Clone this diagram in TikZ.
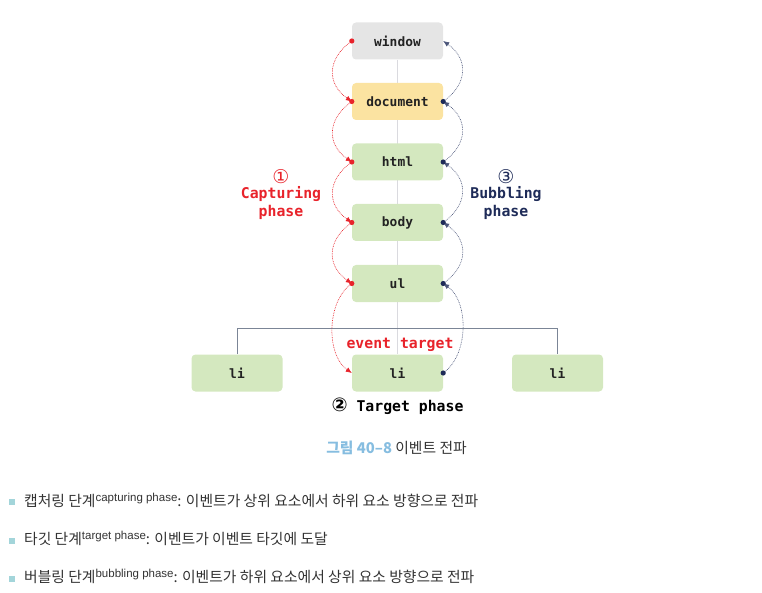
\documentclass[tikz,border=0pt]{standalone}
\usepackage{fontspec}
\setmainfont{Liberation Sans}
\newfontfamily\monob{DejaVu Sans Mono}
\newfontfamily\kr{Noto Sans CJK KR}
\newfontfamily\symf{DejaVu Sans}
\usetikzlibrary{arrows.meta}
\pgfdeclarelayer{bg}
\pgfsetlayers{bg,main}
\definecolor{capred}{HTML}{E8232B}
\definecolor{bubblue}{HTML}{1E2B58}
\definecolor{txtdark}{HTML}{222222}
\definecolor{fillgray}{HTML}{E5E5E5}
\definecolor{fillyel}{HTML}{FBE3A1}
\definecolor{fillgrn}{HTML}{D4E8BF}
\definecolor{centerln}{HTML}{DADADF}
\definecolor{treeln}{HTML}{7B8596}
\definecolor{capblue}{HTML}{86BDE0}
\definecolor{bodytxt}{HTML}{333333}
\definecolor{bulletc}{HTML}{A3D5DA}
\tikzset{
  box/.style={rounded corners=4pt, minimum width=91pt, minimum height=37pt, inner sep=0pt,
    font=\monob\bfseries\fontsize{12.9}{14}\selectfont, text=txtdark},
  lab/.style={font=\monob\bfseries\fontsize{14.8}{16}\selectfont, inner sep=0pt},
  circnum/.style={font=\symf\fontsize{19}{20}\selectfont, inner sep=0pt},
  capt/.style={draw=capred, line width=0.6pt, dash pattern=on 0.8pt off 0.9pt, -{Latex[length=6pt,width=5pt]}},
  bubl/.style={draw=bubblue!80, line width=0.6pt, dash pattern=on 0.8pt off 0.9pt, -{Latex[length=6pt,width=5pt]}},
  ktext/.style={anchor=west, inner sep=0pt, font=\kr\fontsize{14.8}{17}\selectfont, text=bodytxt},
  bul/.style={fill=bulletc, minimum size=6pt, inner sep=0pt},
}
\newcommand{\supt}[1]{\raisebox{5pt}{\rmfamily\fontsize{11.5}{12}\selectfont #1}}
\begin{document}
\begin{tikzpicture}[x=1pt,y=1pt]
\useasboundingbox (0,0) rectangle (762,-593);
% nodes
\node[box, fill=fillgray] (win) at (397.5,-41) {window};
\node[box, fill=fillyel] (doc) at (397.5,-101.5) {document};
\node[box, fill=fillgrn] (html) at (397.5,-162) {html};
\node[box, fill=fillgrn] (body) at (397.5,-222.5) {body};
\node[box, fill=fillgrn] (ul) at (397.5,-283.5) {ul};
\node[box, fill=fillgrn] (li1) at (237,-373) {li};
\node[box, fill=fillgrn] (li2) at (397.5,-373) {li};
\node[box, fill=fillgrn] (li3) at (557.5,-373) {li};
\coordinate (tl) at (237,-328.5);
\coordinate (tr) at (557.5,-328.5);
% lines behind the boxes
\begin{pgfonlayer}{bg}
\draw[centerln, line width=1.5pt] (win.south) -- (li2.north);
\draw[treeln, line width=1pt] (li1.north) -- (tl) -- (tr) -- (li3.north);
\end{pgfonlayer}
% capturing arcs
\draw[capt] (win.west) to[out=215,in=145,looseness=1.3] (doc.west);
\draw[capt] (doc.west) to[out=215,in=145,looseness=1.3] (html.west);
\draw[capt] (html.west) to[out=215,in=145,looseness=1.3] (body.west);
\draw[capt] (body.west) to[out=215,in=145,looseness=1.3] (ul.west);
\draw[capt] (ul.west) to[out=215,in=145,looseness=0.9] (li2.west);
\foreach \n in {win,doc,html,body,ul} \fill[capred] (\n.west) circle (2.6pt);
% bubbling arcs
\draw[bubl] (li2.east) to[out=35,in=-35,looseness=0.9] (ul.east);
\draw[bubl] (ul.east) to[out=35,in=-35,looseness=1.3] (body.east);
\draw[bubl] (body.east) to[out=35,in=-35,looseness=1.3] (html.east);
\draw[bubl] (html.east) to[out=35,in=-35,looseness=1.3] (doc.east);
\draw[bubl] (doc.east) to[out=35,in=-35,looseness=1.3] (win.east);
\foreach \n in {li2,ul,body,html,doc} \fill[bubblue] (\n.east) circle (2.6pt);
% labels
\node[circnum, text=capred] (c1) at (281,-177) {①};
\node[lab, text=capred] (c2) at (281,-194) {Capturing};
\node[lab, text=capred] (c3) at (281,-212) {phase};
\node[circnum, text=bubblue] (b1) at (506,-177) {③};
\node[lab, text=bubblue] (b2) at (506,-194) {Bubbling};
\node[lab, text=bubblue] (b3) at (506,-212) {phase};
\node[lab, text=capred] (et) at (400,-345) {event target};
\node[lab, text=black] (tp) at (397.5,-406) {{\symf\fontsize{19}{20}\selectfont ②} Target phase};
% caption
\node[inner sep=0pt, font=\kr\fontsize{14.8}{17}\selectfont, text=bodytxt] (cap) at (396.5,-448) {{\color{capblue}\bfseries 그림 40–8} 이벤트 전파};
% bullets
\node[bul] (q1) at (12,-502) {};
\node[bul] (q2) at (12,-540.5) {};
\node[bul] (q3) at (12,-578.5) {};
\node[ktext] (t1) at (24,-500) {캡처링 단계\supt{capturing phase}: 이벤트가 상위 요소에서 하위 요소 방향으로 전파};
\node[ktext] (t2) at (24,-538.5) {타깃 단계\supt{target phase}: 이벤트가 이벤트 타깃에 도달};
\node[ktext] (t3) at (24,-576.5) {버블링 단계\supt{bubbling phase}: 이벤트가 하위 요소에서 상위 요소 방향으로 전파};
\end{tikzpicture}
\end{document}
